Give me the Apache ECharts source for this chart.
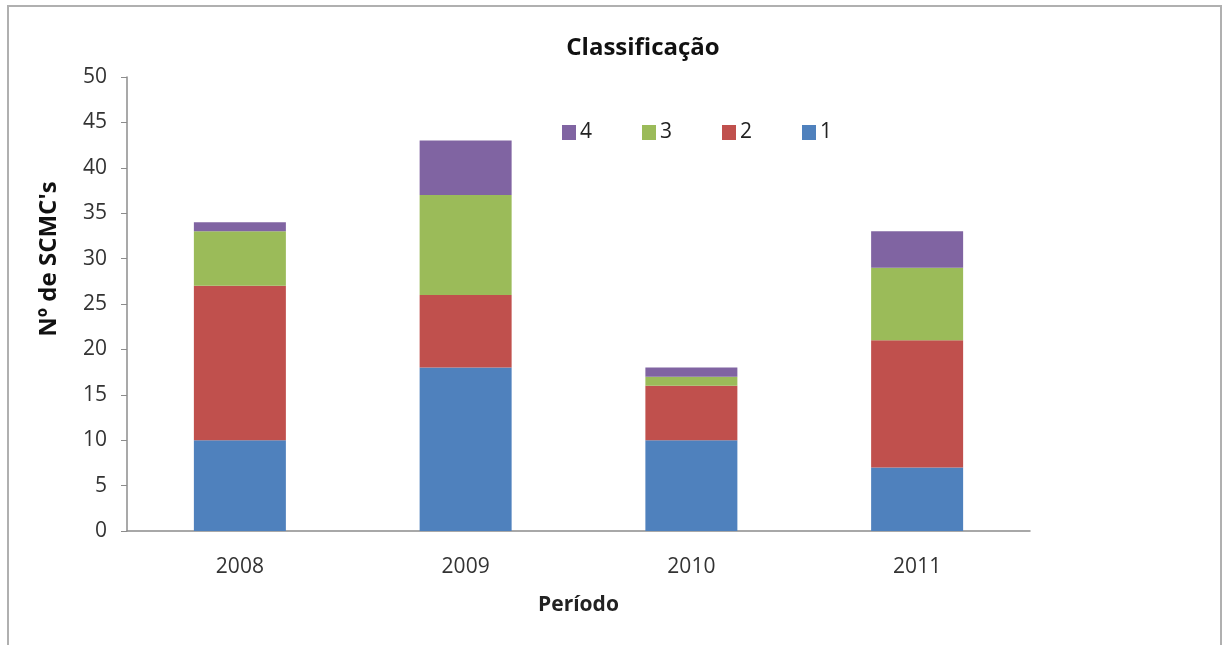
<!DOCTYPE html>
<html>
<head>
<meta charset="utf-8">
<script src="https://cdn.jsdelivr.net/npm/echarts@6/dist/echarts.min.js"></script>
<style>
  html, body { margin: 0; padding: 0; background: #fff; }
  #chart { width: 1229px; height: 645px; }
</style>
</head>
<body>
<div id="chart"></div>
<script>
// data
var periods = ['2008', '2009', '2010', '2011']
var class1 = [10, 18, 10, 7]
var class2 = [17, 8, 6, 14]
var class3 = [6, 11, 1, 8]
var class4 = [1, 6, 1, 4]
var legendOrder = ['4', '3', '2', '1']
var yTicks = { min: 0, max: 50, interval: 5 }

var font = '"Open Sans", "DejaVu Sans", sans-serif'
var axisGray = '#8c8c8c'

function barSeries (name, data, color) {
  return {
    name: name,
    type: 'bar',
    stack: 'total',
    barWidth: 92,
    data: data,
    itemStyle: { color: color }
  }
}

var chart = echarts.init(document.getElementById('chart'))
chart.setOption({
  animation: false,
  backgroundColor: '#fff',
  title: {
    text: 'Classificação',
    left: 638,
    textAlign: 'center',
    top: 31,
    textStyle: { fontFamily: font, fontSize: 24, fontWeight: 'bold', color: '#111' }
  },
  legend: {
    data: legendOrder,
    left: 557,
    top: 117,
    itemWidth: 14,
    itemHeight: 15,
    itemGap: 50,
    icon: 'rect',
    textStyle: { fontFamily: font, fontSize: 21, color: '#222', padding: [0, 0, 0, -1] }
  },
  graphic: [{
    type: 'rect',
    shape: { x: 8, y: 6, width: 1213, height: 700 },
    style: { fill: 'none', stroke: '#b0b0b0', lineWidth: 2 },
    silent: true
  }],
  grid: { left: 127, right: 199, top: 77, bottom: 114 },
  xAxis: {
    type: 'category',
    data: periods,
    name: 'Período',
    nameLocation: 'middle',
    nameGap: 64,
    nameTextStyle: { fontFamily: font, fontSize: 21, fontWeight: 'bold', color: '#222' },
    axisLine: { lineStyle: { color: axisGray, width: 1.5 } },
    axisTick: { length: 7, lineStyle: { color: axisGray } },
    axisLabel: { margin: 26, fontFamily: font, fontSize: 21, color: '#333' }
  },
  yAxis: {
    type: 'value',
    min: yTicks.min,
    max: yTicks.max,
    interval: yTicks.interval,
    name: 'Nº de SCMC\'s',
    nameLocation: 'middle',
    nameGap: 66,
    nameTextStyle: { fontFamily: font, fontSize: 24, fontWeight: 'bold', color: '#111', padding: [0, 0, 0, 90] },
    axisLine: { show: true, lineStyle: { color: axisGray, width: 1.5 } },
    axisTick: { show: true, length: 6, lineStyle: { color: axisGray } },
    axisLabel: { margin: 20, fontFamily: font, fontSize: 21, color: '#333' },
    splitLine: { show: false }
  },
  series: [
    barSeries('1', class1, '#4f81bd'),
    barSeries('2', class2, '#c0504d'),
    barSeries('3', class3, '#9bbb59'),
    barSeries('4', class4, '#8064a2')
  ]
})
</script>
</body>
</html>
